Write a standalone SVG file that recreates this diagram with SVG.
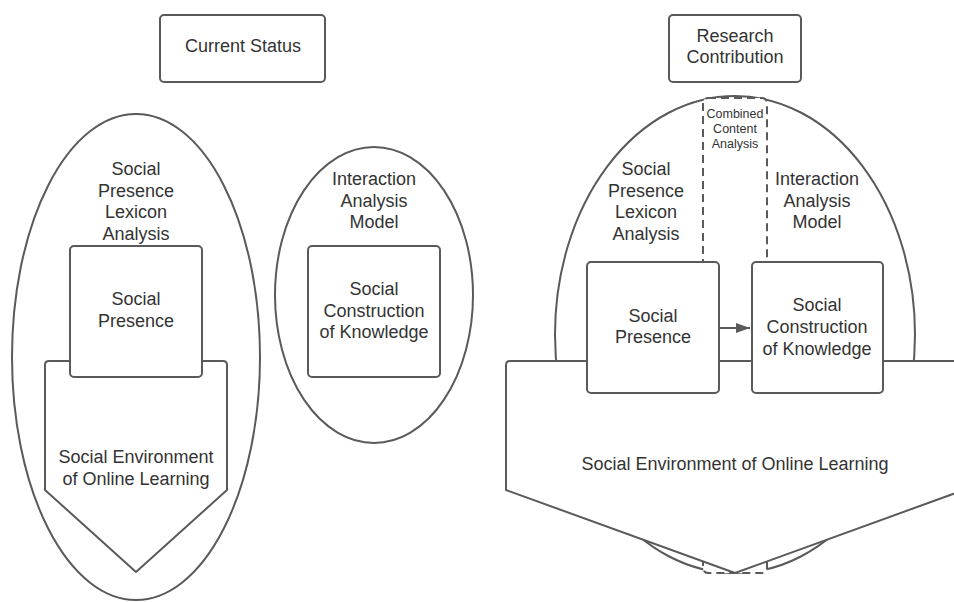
<svg xmlns="http://www.w3.org/2000/svg" width="954" height="602" viewBox="0 0 954 602">
  <defs>
    <style>
      .shape { fill: #ffffff; stroke: #5a5a5a; stroke-width: 2; stroke-linejoin: round; }
      .dash { fill: #ffffff; stroke: #5a5a5a; stroke-width: 2; stroke-dasharray: 8 5; }
      .lbl { font-family: "Liberation Sans", Arial, sans-serif; font-size: 18px; fill: #333333; text-anchor: middle; }
      .small { font-size: 12.5px; }
      .conn { fill: none; stroke: #5a5a5a; stroke-width: 2; }
    </style>
    <marker id="arrowhead" viewBox="0 0 14 10" refX="14" refY="5" markerWidth="14" markerHeight="10" markerUnits="userSpaceOnUse" orient="auto">
      <path d="M0,0 L14,5 L0,10 Z" fill="#5a5a5a"/>
    </marker>
  </defs>

  <rect width="954" height="602" fill="#ffffff"/>

  <!-- Left panel: current status -->
  <g id="current-status">
    <rect class="shape" x="160" y="15" width="165" height="67" rx="4"/>
    <text class="lbl" x="243" y="52">Current Status</text>
  </g>

  <g id="lexicon-analysis-left">
    <ellipse class="shape" cx="136" cy="357" rx="124" ry="243"/>
    <text class="lbl" x="136" y="175">Social</text>
    <text class="lbl" x="136" y="197">Presence</text>
    <text class="lbl" x="136" y="218">Lexicon</text>
    <text class="lbl" x="136" y="240">Analysis</text>
  </g>

  <g id="environment-left">
    <path class="shape" d="M45,365 Q45,361 49,361 L223,361 Q227,361 227,365 L227,490 L136,572 L45,490 Z"/>
    <text class="lbl" x="136" y="463">Social Environment</text>
    <text class="lbl" x="136" y="485">of Online Learning</text>
  </g>

  <g id="social-presence-left">
    <rect class="shape" x="70" y="246" width="132" height="131" rx="4"/>
    <text class="lbl" x="136" y="305">Social</text>
    <text class="lbl" x="136" y="327">Presence</text>
  </g>

  <g id="interaction-analysis-left">
    <ellipse class="shape" cx="374" cy="295" rx="99" ry="148"/>
    <text class="lbl" x="374" y="185">Interaction</text>
    <text class="lbl" x="374" y="207">Analysis</text>
    <text class="lbl" x="374" y="228">Model</text>
  </g>

  <g id="knowledge-left">
    <rect class="shape" x="308" y="246" width="132" height="131" rx="4"/>
    <text class="lbl" x="374" y="295">Social</text>
    <text class="lbl" x="374" y="317">Construction</text>
    <text class="lbl" x="374" y="338">of Knowledge</text>
  </g>

  <!-- Right panel: research contribution -->
  <g id="research-contribution">
    <rect class="shape" x="669" y="15" width="132" height="67" rx="4"/>
    <text class="lbl" x="735" y="42">Research</text>
    <text class="lbl" x="735" y="63">Contribution</text>
  </g>

  <g id="combined-scope">
    <ellipse class="shape" cx="735" cy="334.5" rx="180" ry="238.5"/>
  </g>

  <g id="combined-content-analysis">
    <rect class="dash" x="703" y="98" width="64" height="475" rx="5"/>
    <text class="lbl small" x="735" y="118">Combined</text>
    <text class="lbl small" x="735" y="133">Content</text>
    <text class="lbl small" x="735" y="148">Analysis</text>
  </g>

  <g id="lexicon-analysis-right">
    <text class="lbl" x="646" y="175">Social</text>
    <text class="lbl" x="646" y="197">Presence</text>
    <text class="lbl" x="646" y="218">Lexicon</text>
    <text class="lbl" x="646" y="240">Analysis</text>
  </g>

  <g id="interaction-analysis-right">
    <text class="lbl" x="817" y="185">Interaction</text>
    <text class="lbl" x="817" y="207">Analysis</text>
    <text class="lbl" x="817" y="228">Model</text>
  </g>

  <g id="environment-right">
    <path class="shape" d="M506,365 Q506,361 510,361 L964,361 L964,490 L735,573 L506,490 Z"/>
    <text class="lbl" x="735" y="470">Social Environment of Online Learning</text>
  </g>

  <g id="social-presence-right">
    <rect class="shape" x="587" y="262" width="132" height="131" rx="4"/>
    <text class="lbl" x="653" y="322">Social</text>
    <text class="lbl" x="653" y="343">Presence</text>
  </g>

  <g id="knowledge-right">
    <rect class="shape" x="752" y="262" width="131" height="131" rx="4"/>
    <text class="lbl" x="817" y="311">Social</text>
    <text class="lbl" x="817" y="333">Construction</text>
    <text class="lbl" x="817" y="355">of Knowledge</text>
  </g>

  <!-- Connectors -->
  <g id="connectors">
    <line class="conn" x1="719" y1="328" x2="750" y2="328" marker-end="url(#arrowhead)"/>
  </g>
</svg>
